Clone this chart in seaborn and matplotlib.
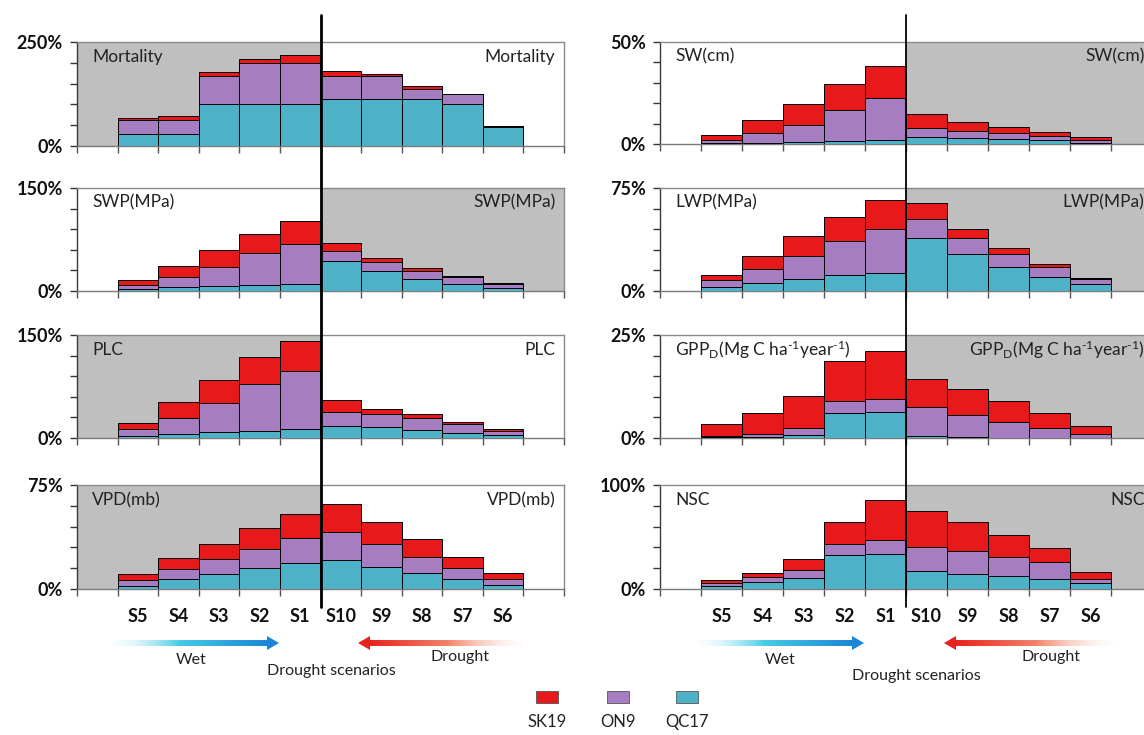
import numpy as np
import pandas as pd
import matplotlib
matplotlib.use("Agg")
import matplotlib.pyplot as plt
import seaborn as sns
from matplotlib.lines import Line2D
from matplotlib.patches import Rectangle, Polygon
from matplotlib.collections import LineCollection
from matplotlib.colors import to_rgba

# ---------------------------------------------------------------- data
scenarios = ["S5", "S4", "S3", "S2", "S1", "S10", "S9", "S8", "S7", "S6"]
sites = ["QC17", "ON9", "SK19"]          # stacking order, bottom -> top
site_colors = {"SK19": "#e8191b", "ON9": "#a67dc0", "QC17": "#4db1c7"}

# change (%) per scenario; each list is that site's own slice of the stack
mortality_qc17 = [28, 28, 100, 100, 100, 112, 112, 112, 100, 46]
mortality_on9 = [34, 34, 68, 100, 100, 57, 56, 25, 24, 1]
mortality_sk19 = [5, 10, 9, 10, 19, 11, 6, 7, 1, 2]

swp_qc17 = [2.4, 5.7, 7.2, 8.6, 9.6, 43.1, 28.8, 17.7, 9.6, 4.8]
swp_on9 = [6.2, 14.9, 28.3, 46.5, 58.9, 15.4, 12.9, 12.0, 11.0, 4.8]
swp_sk19 = [7.2, 16.3, 23.5, 27.8, 33.5, 11.5, 6.7, 3.3, 1.0, 1.4]

plc_qc17 = [3.4, 5.7, 8.1, 10.5, 13.4, 18.2, 16.3, 12.0, 6.7, 3.8]
plc_on9 = [9.5, 23.5, 42.2, 68.6, 83.9, 20.1, 18.2, 17.7, 14.4, 6.7]
plc_sk19 = [9.6, 23.5, 33.6, 39.3, 44.1, 16.8, 8.1, 4.8, 2.9, 2.4]

vpd_qc17 = [2.4, 7.2, 10.8, 14.9, 18.5, 20.8, 16.1, 11.5, 7.2, 2.9]
vpd_on9 = [4.1, 6.9, 10.8, 14.3, 18.2, 20.4, 16.3, 11.7, 7.9, 4.0]
vpd_sk19 = [4.3, 7.9, 11.2, 14.7, 17.7, 20.4, 16.0, 12.7, 8.1, 4.4]

sw_qc17 = [0.7, 0.7, 1.1, 1.5, 2.0, 3.6, 3.1, 2.3, 1.8, 0.5]
sw_on9 = [1.3, 4.5, 8.0, 15.4, 20.6, 4.4, 3.3, 3.1, 2.1, 1.5]
sw_sk19 = [2.6, 6.5, 10.6, 12.7, 15.8, 6.8, 4.3, 2.9, 2.0, 1.4]

lwp_qc17 = [3.1, 6.0, 9.1, 11.3, 13.2, 38.3, 26.8, 17.7, 10.1, 4.8]
lwp_on9 = [4.6, 10.3, 16.5, 25.1, 32.3, 14.4, 11.5, 9.4, 7.2, 3.6]
lwp_sk19 = [4.0, 9.3, 14.4, 17.8, 20.9, 11.5, 6.7, 4.3, 2.6, 1.2]

gpp_qc17 = [0.2, 0.3, 0.7, 6.1, 6.3, 0.4, 0.2, 0.1, 0.1, 0.1]
gpp_on9 = [0.4, 0.7, 1.8, 2.8, 3.1, 7.1, 5.5, 3.9, 2.4, 0.9]
gpp_sk19 = [2.7, 5.1, 7.7, 9.7, 11.6, 6.9, 6.1, 5.0, 3.5, 1.8]

nsc_qc17 = [2.9, 6.3, 10.2, 33.0, 34.0, 17.5, 14.9, 12.7, 9.2, 5.4]
nsc_on9 = [2.5, 5.4, 8.5, 9.9, 12.7, 22.8, 21.6, 18.1, 16.8, 4.1]
nsc_sk19 = [3.2, 3.9, 10.5, 21.2, 38.7, 34.9, 27.6, 21.3, 13.7, 7.0]

gpp_label = r"GPP$_{\mathrm{D}}$(Mg C ha$^{\text{-1}}$year$^{\text{-1}}$)"

# (column, row, label, y max, shaded half, QC17, ON9, SK19)
panels = [
    (0, 0, "Mortality", 250, "left", mortality_qc17, mortality_on9, mortality_sk19),
    (0, 1, "SWP(MPa)", 150, "right", swp_qc17, swp_on9, swp_sk19),
    (0, 2, "PLC", 150, "left", plc_qc17, plc_on9, plc_sk19),
    (0, 3, "VPD(mb)", 75, "left", vpd_qc17, vpd_on9, vpd_sk19),
    (1, 0, "SW(cm)", 50, "right", sw_qc17, sw_on9, sw_sk19),
    (1, 1, "LWP(MPa)", 75, "right", lwp_qc17, lwp_on9, lwp_sk19),
    (1, 2, gpp_label, 25, "right", gpp_qc17, gpp_on9, gpp_sk19),
    (1, 3, "NSC", 100, "right", nsc_qc17, nsc_on9, nsc_sk19),
]

# ---------------------------------------------------------------- style
sns.set_theme(style="white")
plt.rcParams["font.family"] = ["Lato", "DejaVu Sans"]
plt.rcParams["mathtext.fontset"] = "custom"
plt.rcParams["mathtext.rm"] = "Lato"
plt.rcParams["mathtext.it"] = "Lato:italic"
plt.rcParams["mathtext.bf"] = "Lato:bold"

W, H = 1144, 735
fig = plt.figure(figsize=(W / 100, H / 100), dpi=100)
fig.patch.set_facecolor("white")

col_x = [(77, 564), (660, 1152)]
row_y = [[(42, 146), (188, 291), (335, 438), (485, 589)],
         [(42, 144), (188, 291), (335, 438), (485, 589)]]
label_right = [0.982, 0.985]


def fx(px):
    return px / W


def fy(py):
    return 1 - py / H


def draw_panel(ax, col, label, ymax, shade, qc, on, sk, bottom_row):
    df = pd.DataFrame({"scenario": scenarios, "QC17": qc, "ON9": on, "SK19": sk})
    stacked = df[sites].cumsum(axis=1)
    # tallest (cumulative) bar first, lower layers painted over it
    for site in reversed(sites):
        sns.barplot(x=df["scenario"], y=stacked[site], order=scenarios,
                    color=site_colors[site], saturation=1, width=1,
                    edgecolor="black", linewidth=0.7, errorbar=None,
                    ax=ax, zorder=3)
    ax.set_xlim(-1.5, 10.5)
    ax.set_ylim(0, ymax)
    span = (-1.5, 4.5) if shade == "left" else (4.5, 10.5)
    ax.axvspan(*span, color="#bfbfbf", lw=0, zorder=0)
    ax.set_xlabel("")
    ax.set_ylabel("")

    ax.set_xticks(range(len(scenarios)))
    ax.set_xticklabels(scenarios if bottom_row else [], fontweight="bold", fontsize=13)
    ax.set_xticks(np.arange(-1.5, 10.6, 1.0), minor=True)
    ax.tick_params(axis="x", which="major", length=0, pad=14, colors="#111111")
    ax.tick_params(axis="x", which="minor", length=5, width=1, color="#555555",
                   direction="out", bottom=True)

    ax.set_yticks(np.linspace(0, ymax, 6))
    ax.set_yticklabels(["0%", "", "", "", "", f"{ymax}%"], fontweight="bold", fontsize=13)
    ax.tick_params(axis="y", which="major", length=5, width=1, color="#333333",
                   direction="out", pad=5, left=True, labelcolor="#111111")

    for side, c in (("top", "#8a8a8a"), ("right", "#8a8a8a"),
                    ("left", "#3a3a3a"), ("bottom", "#7a7a7a")):
        ax.spines[side].set_visible(True)
        ax.spines[side].set_color(c)
        ax.spines[side].set_linewidth(1.0)

    ax.text(0.031, 0.856, label, transform=ax.transAxes, ha="left", va="center",
            fontsize=12.5, color="#222222", zorder=5)
    ax.text(label_right[col], 0.856, label, transform=ax.transAxes, ha="right",
            va="center", fontsize=12.5, color="#222222", zorder=5)


axes_by_col = {0: [], 1: []}
for col, row, label, ymax, shade, qc, on, sk in panels:
    x0, x1 = col_x[col]
    y0, y1 = row_y[col][row]
    ax = fig.add_axes([fx(x0), fy(y1), fx(x1) - fx(x0), (y1 - y0) / H])
    draw_panel(ax, col, label, ymax, shade, qc, on, sk, bottom_row=(row == 3))
    axes_by_col[col].append(ax)

# vertical divider between the wet and the drought scenarios
for col, lw in ((0, 2.0), (1, 1.3)):
    ax = axes_by_col[col][0]
    xdisp = ax.transData.transform((4.5, 0))[0]
    xf = xdisp / fig.bbox.width
    fig.add_artist(Line2D([xf, xf], [fy(15), fy(607)], color="black", lw=lw,
                          transform=fig.transFigure, zorder=10))


def gradient_arrow(x_tail, x_tip, y, stops):
    n = 160
    head_len, head_half = 12, 7
    d = np.sign(x_tip - x_tail)
    x_base = x_tip - d * head_len
    xs = np.linspace(x_tail, x_base, n + 1)
    segs = [[(fx(xs[i]), fy(y)), (fx(xs[i + 1]), fy(y))] for i in range(n)]
    t = np.linspace(0, 1, n)
    pos = np.array([s[0] for s in stops])
    rgba = np.array([to_rgba(s[1], s[2]) for s in stops])
    cols = np.column_stack([np.interp(t, pos, rgba[:, k]) for k in range(4)])
    fig.add_artist(LineCollection(segs, colors=cols, linewidths=4.3,
                                  transform=fig.transFigure, capstyle="butt"))
    head = Polygon([(fx(x_tip), fy(y)), (fx(x_base), fy(y - head_half)),
                    (fx(x_base), fy(y + head_half))], closed=True,
                   facecolor=stops[-1][1], edgecolor="none",
                   transform=fig.transFigure)
    fig.add_artist(head)


wet_stops = [(0.0, "#d8f6fb", 0.0), (0.45, "#45cbe6", 1.0), (1.0, "#1b86d6", 1.0)]
dry_stops = [(0.0, "#fde6da", 0.0), (0.5, "#f3826a", 1.0), (1.0, "#e8231c", 1.0)]

annot = [
    # wet tail, wet tip, dry tail, dry tip, wet text x, dry text x, scenarios x, scenarios y
    (108, 279, 527, 358, 191, 460, 331, 671),
    (693, 864, 1116, 944, 780, 1051, 916, 676),
]
for wt, wp, dt, dp, wx, dx, sx, sy in annot:
    gradient_arrow(wt, wp, 643, wet_stops)
    gradient_arrow(dt, dp, 643, dry_stops)
    fig.text(fx(wx), fy(660), "Wet", ha="center", va="center", fontsize=11.5, color="#222222")
    fig.text(fx(dx), fy(657), "Drought", ha="center", va="center", fontsize=11.5, color="#222222")
    fig.text(fx(sx), fy(sy), "Drought scenarios", ha="center", va="center",
             fontsize=11.5, color="#222222")

# legend: swatch above name
legend_x = {"SK19": 547, "ON9": 618, "QC17": 687}
for site in ["SK19", "ON9", "QC17"]:
    cx = legend_x[site]
    fig.add_artist(Rectangle((fx(cx - 11), fy(703)), 22 / W, 12 / H,
                             facecolor=site_colors[site], edgecolor="#555555",
                             lw=0.6, transform=fig.transFigure))
    fig.text(fx(cx), fy(722), site, ha="center", va="center", fontsize=12, color="#222222")

fig.savefig("out.png", dpi=100)
